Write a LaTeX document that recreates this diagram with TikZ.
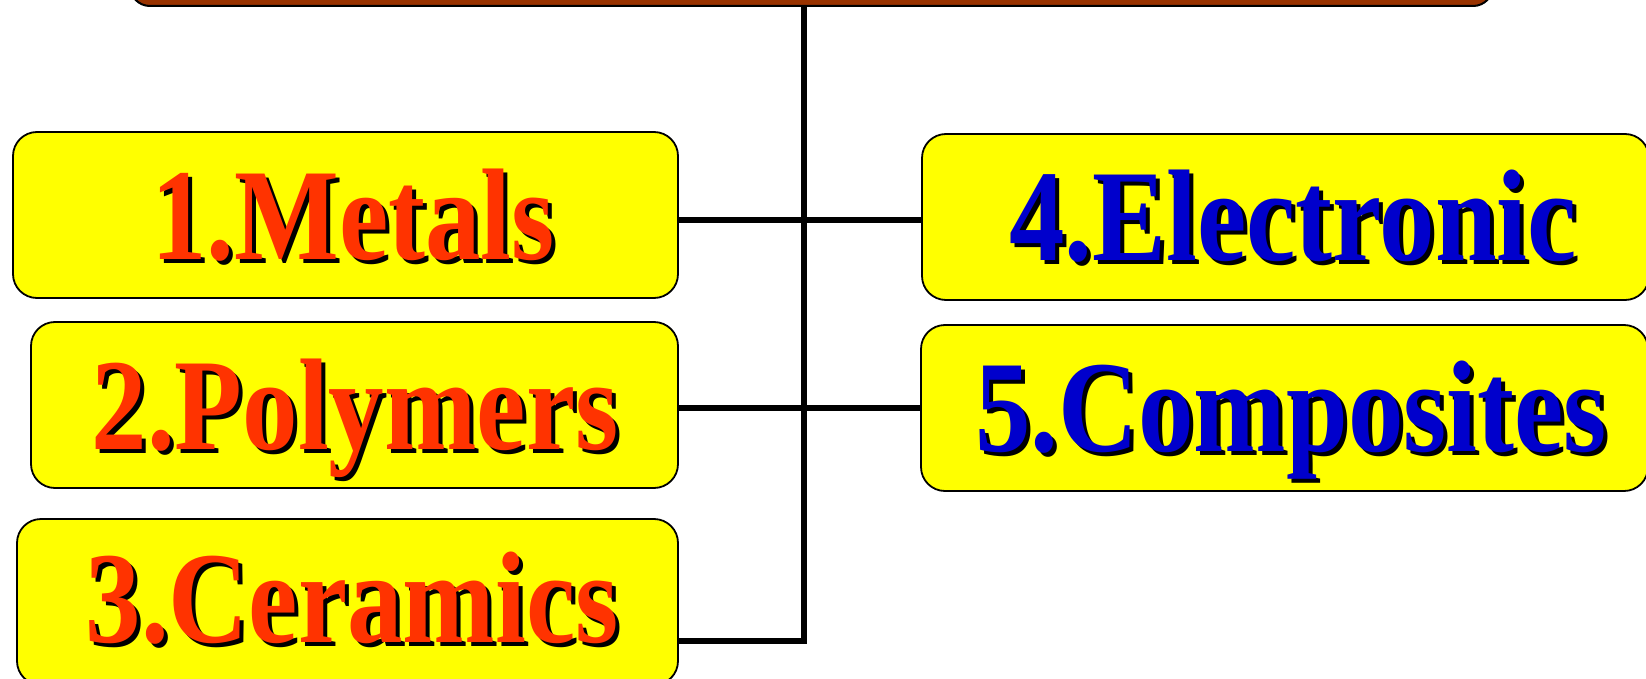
\documentclass[tikz,border=0pt]{standalone}
\usepackage{fontspec}
\setmainfont{Liberation Serif}
\usetikzlibrary{calc}
\definecolor{boxyellow}{HTML}{FFFF00}
\definecolor{topbrown}{HTML}{993300}
\definecolor{txtred}{HTML}{FF3300}
\definecolor{txtblue}{HTML}{0000CC}
\newcommand{\lblraw}[1]{\fontsize{131}{131}\selectfont\bfseries\scalebox{0.85}[1]{#1}}
\newcommand{\shadlbl}[2]{\rlap{\hspace{4bp}\raisebox{-4bp}{\color{black}\lblraw{#2}}}{\color{#1}\lblraw{#2}}}
\begin{document}
\begin{tikzpicture}[x=1bp,y=-1bp,
  catbox/.style={draw=black,line width=1.8bp,fill=boxyellow,rounded corners=24bp,
    rectangle,minimum height=166bp,inner sep=0pt},
  topbox/.style={draw=black,line width=2bp,fill=topbrown,rounded corners=20bp,
    rectangle,minimum height=80bp,minimum width=1363bp,inner sep=0pt},
  conn/.style={draw=black,line width=5.5bp},
  lab/.style={anchor=base,inner sep=0pt}]
\useasboundingbox (0,0) rectangle (1646,679);
\clip (0,0) rectangle (1646,679);
\fill[white] (0,0) rectangle (1646,679);
% boxes
\node[topbox] (top) at (811.5,-34) {};
\node[catbox,minimum width=665bp] (b1) at (345.5,215) {};
\node[catbox,minimum width=647bp] (b2) at (354.5,405) {};
\node[catbox,minimum width=661bp] (b3) at (347.5,602) {};
\node[catbox,minimum width=727bp] (b4) at (1285.5,217) {};
\node[catbox,minimum width=727bp] (b5) at (1284.5,408) {};
% connectors
\coordinate (j1) at (804,220);
\coordinate (j2) at (804,408);
\coordinate (j3) at (804,641);
\draw[conn] (top.south -| j1) -- (j3);
\draw[conn] (b1.east |- j1) -- (b4.west |- j1);
\draw[conn] (b2.east |- j2) -- (b5.west |- j2);
\draw[conn] (b3.east |- j3) -- ([xshift=2.75bp]j3);
% texts
\node[lab] (t1) at (353,259) {\shadlbl{txtred}{1.Metals}};
\node[lab] (t2) at (355,449) {\shadlbl{txtred}{2.Polymers}};
\node[lab] (t3) at (352,642) {\shadlbl{txtred}{3.Ceramics}};
\node[lab] (t4) at (1293,260) {\shadlbl{txtblue}{4.Electronic}};
\node[lab] (t5) at (1291,451) {\shadlbl{txtblue}{5.Composites}};
\end{tikzpicture}
\end{document}
